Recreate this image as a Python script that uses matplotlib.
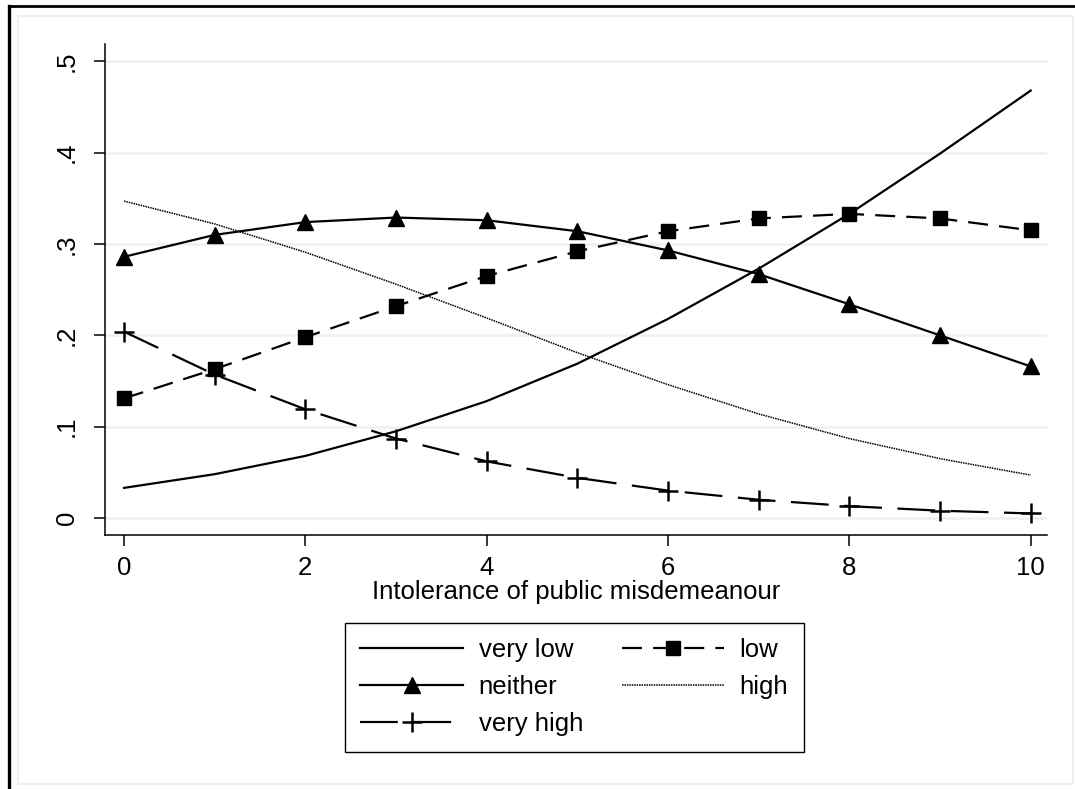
import matplotlib

matplotlib.use("Agg")

import matplotlib.pyplot as plt
from matplotlib.lines import Line2D
from matplotlib.patches import Rectangle

# intolerance score (x axis)
intolerance = [0, 1, 2, 3, 4, 5, 6, 7, 8, 9, 10]

# predicted probabilities
p_very_low = [0.033, 0.048, 0.068, 0.095, 0.128, 0.169, 0.218, 0.273, 0.333, 0.399, 0.468]
p_low = [0.131, 0.163, 0.198, 0.232, 0.265, 0.292, 0.314, 0.328, 0.333, 0.328, 0.315]
p_neither = [0.286, 0.310, 0.324, 0.329, 0.326, 0.314, 0.293, 0.267, 0.234, 0.200, 0.166]
p_high = [0.347, 0.322, 0.291, 0.256, 0.219, 0.181, 0.146, 0.114, 0.087, 0.065, 0.047]
p_very_high = [0.204, 0.157, 0.119, 0.087, 0.062, 0.044, 0.030, 0.020, 0.013, 0.008, 0.005]

y_ticks = [0, 0.1, 0.2, 0.3, 0.4, 0.5]
y_tick_labels = ["0", ".1", ".2", ".3", ".4", ".5"]
x_ticks = [0, 2, 4, 6, 8, 10]

plt.rcParams["font.family"] = ["Liberation Sans", "DejaVu Sans"]
FS = 18.5

W, H = 1075, 789
fig = plt.figure(figsize=(W / 100, H / 100), dpi=100)
fig.patch.set_facecolor("white")


def fx(px):
    return px / W


def fy(py):
    return 1 - py / H


# page frame and graph region outline
fig.add_artist(Rectangle((fx(18), fy(784)), fx(1073) - fx(18), fy(16) - fy(784),
                         transform=fig.transFigure, fill=False,
                         edgecolor="#e6eef0", linewidth=1.2))
fig.add_artist(Line2D([fx(9), fx(9)], [fy(6), 0], transform=fig.transFigure,
                      color="black", linewidth=2.4))
fig.add_artist(Line2D([fx(9), 1], [fy(6), fy(6)], transform=fig.transFigure,
                      color="black", linewidth=2.0))
# title sits mostly above the crop, as in the reference
fig.text(fx(2), fy(-5), "Graph 4: Predicted probabilities of feeling safe by intolerance of public misdemeanour",
         fontsize=FS, va="baseline", ha="left", color="#555555")

ax = fig.add_axes([fx(105), fy(535), fx(1047) - fx(105), fy(44) - fy(535)])
ax.set_xlim(-0.21, 10.18)
ax.set_ylim(-0.0186, 0.519)

for y in y_ticks:
    ax.axhline(y, color="#eaf2f3", linewidth=1.8, zorder=0)

lw = 1.6
l1, = ax.plot(intolerance, p_very_low, color="black", linewidth=lw, linestyle="-")
l2, = ax.plot(intolerance, p_low, color="black", linewidth=lw, linestyle=(0, (9, 5)),
              marker="s", markersize=9.5)
l3, = ax.plot(intolerance, p_neither, color="black", linewidth=lw, linestyle="-",
              marker="^", markersize=11.5)
l4, = ax.plot(intolerance, p_high, color="black", linewidth=1.1, linestyle=(0, (1, 0.6)))
l5, = ax.plot(intolerance, p_very_high, color="black", linewidth=lw, linestyle=(0, (17, 7)),
              marker="+", markersize=14, markeredgewidth=1.8)

for side in ("top", "right"):
    ax.spines[side].set_visible(False)
for side in ("left", "bottom"):
    ax.spines[side].set_linewidth(1.1)

ax.set_yticks(y_ticks)
ax.set_yticklabels(y_tick_labels, rotation=90, va="center")
ax.set_xticks(x_ticks)
ax.tick_params(axis="both", direction="out", length=8, width=1.1, labelsize=FS)
ax.tick_params(axis="y", pad=11)
ax.tick_params(axis="x", pad=7)
ax.set_xlabel("Intolerance of public misdemeanour", fontsize=FS, labelpad=0)

fig.legend([l1, l3, l5, l2, l4], ["very low", "neither", "very high", "low", "high"],
           ncol=2, loc="upper left", bbox_to_anchor=(fx(345), fy(623)),
           fontsize=FS, numpoints=1, frameon=True, fancybox=False,
           edgecolor="black", framealpha=1, handlelength=4.0,
           handletextpad=0.6, columnspacing=1.5, labelspacing=0.5,
           borderpad=0.6, borderaxespad=0)

fig.savefig("out.png", dpi=100)
